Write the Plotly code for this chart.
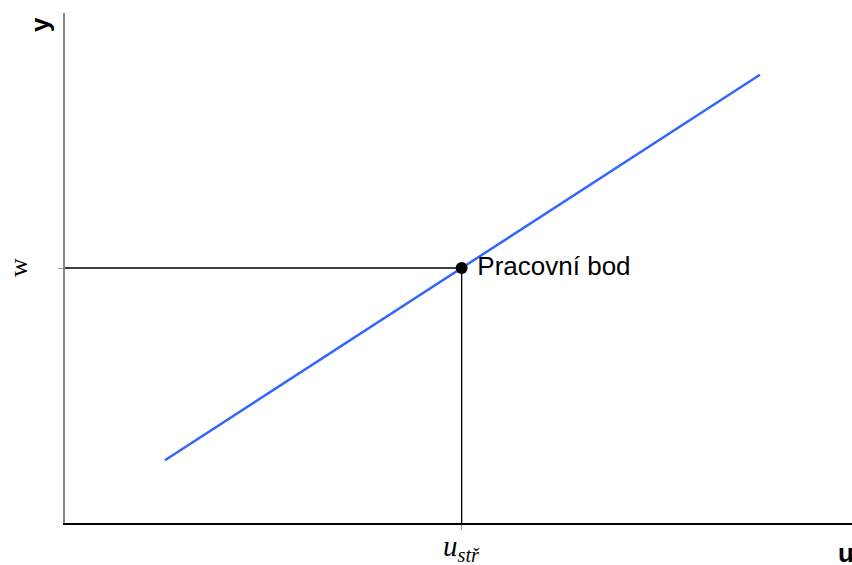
import plotly.graph_objects as go

line_x = [1.27, 8.83]
line_y = [1.23, 8.79]
point_x = [5.04]
point_y = [5.0]
point_label = "Pracovní bod"

fig = go.Figure()
# guide lines
fig.add_trace(go.Scatter(x=[0, point_x[0], point_x[0]], y=[point_y[0], point_y[0], 0],
                         mode="lines", line=dict(color="black", width=1.3),
                         hoverinfo="skip", showlegend=False, cliponaxis=False))
fig.add_trace(go.Scatter(x=line_x, y=line_y, mode="lines",
                         line=dict(color="#3366ff", width=2.5), showlegend=False))
fig.add_trace(go.Scatter(x=point_x, y=point_y, mode="markers+text",
                         marker=dict(color="black", size=12),
                         text=[" " + point_label], textposition="middle right",
                         textfont=dict(family="Liberation Sans, Arial", size=26, color="black"),
                         showlegend=False))

fig.update_layout(
    width=852, height=565,
    margin=dict(l=65, r=0, t=13, b=42, autoexpand=False),
    plot_bgcolor="white", paper_bgcolor="white",
    xaxis=dict(range=[0, 10], showgrid=False, zeroline=False, showline=True,
               linecolor="black", linewidth=1.5, ticks="outside", ticklen=5,
               tickcolor="#999999", tickvals=point_x, showticklabels=False,
               automargin=False),
    yaxis=dict(range=[0, 10], showgrid=False, zeroline=False, showline=True,
               linecolor="#888888", linewidth=1.5, ticks="outside", ticklen=5,
               tickcolor="#999999", tickvals=point_y, showticklabels=False,
               automargin=False),
    annotations=[
        dict(text="<i>u</i><sub><i>stř</i></sub>", x=point_x[0], y=0, xref="x", yref="y",
             yshift=-25, showarrow=False, yanchor="middle",
             font=dict(family="Liberation Serif, Times New Roman", size=29, color="black")),
        dict(text="w", x=0, y=point_y[0], xref="paper", yref="y", xshift=-47,
             xanchor="center", yanchor="middle",
             showarrow=False, textangle=-90,
             font=dict(family="Liberation Serif, Times New Roman", size=26, color="black")),
        dict(text="<b>y</b>", x=0, y=1, xref="paper", yref="paper", xshift=-25, yshift=-12,
             xanchor="center", yanchor="middle",
             showarrow=False, textangle=-90,
             font=dict(family="Liberation Sans, Arial", size=26, color="black")),
        dict(text="<b>u</b>", x=1, y=0, xref="paper", yref="paper", xshift=-16, yshift=-30,
             showarrow=False, xanchor="left", yanchor="middle",
             font=dict(family="Liberation Sans, Arial", size=26, color="black")),
    ],
)
fig.write_html("out.html", config={"displayModeBar": False},
               post_script="document.body.style.margin='0px';document.body.style.overflow='hidden';")
